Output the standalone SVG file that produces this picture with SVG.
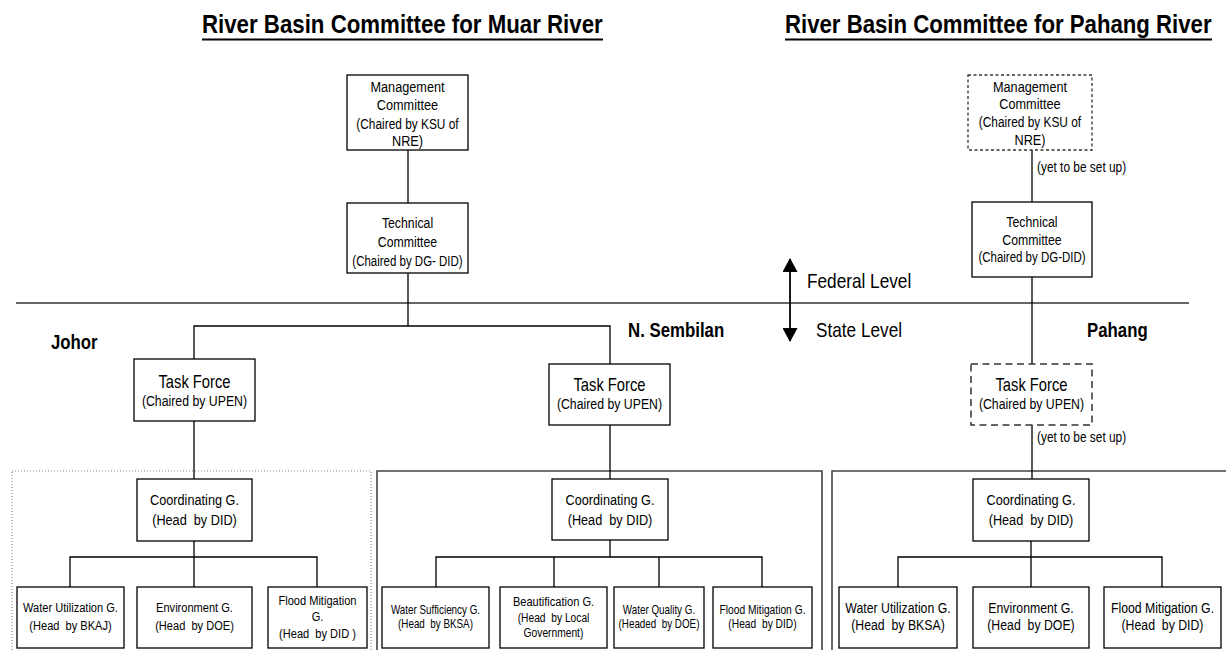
<svg xmlns="http://www.w3.org/2000/svg" width="1226" height="650" viewBox="0 0 1226 650">
  <style>
    text { font-family: "Liberation Sans Narrow", "Arial Narrow", "Liberation Sans", Arial, sans-serif; fill: #000; white-space: pre; }
    .c { text-anchor: middle; }
    .title { font-size: 25px; font-weight: bold; }
    .state { font-size: 20.5px; font-weight: bold; }
    .lvl { font-size: 21px; }
    .note { font-size: 14.5px; }
    .box { fill: #fff; stroke: #000; stroke-width: 1.3; }
    .dash-s { fill: #fff; stroke: #333; stroke-width: 1.3; stroke-dasharray: 3 2.5; }
    .dash-l { fill: #fff; stroke: #333; stroke-width: 1.5; stroke-dasharray: 7 4.5; }
    .area { fill: none; stroke: #444; stroke-width: 1.6; }
    .area-dot { fill: none; stroke: #888; stroke-width: 1.2; stroke-dasharray: 1 2; }
    .link { fill: none; stroke: #000; stroke-width: 1.3; }
  </style>
  <defs>
    <marker id="tip" viewBox="0 0 14 15" refX="13" refY="7.5" markerWidth="14" markerHeight="15" markerUnits="userSpaceOnUse" orient="auto-start-reverse">
      <path d="M0,0 L14,7.5 L0,15 Z" fill="#000"/>
    </marker>
  </defs>

  <rect width="1226" height="650" fill="#fff"/>

  <!-- Headings (condensed horizontally to a narrow face) -->
  <g id="titles">
    <text class="title" x="202" y="33" transform="matrix(0.891 0 0 1 22.02 0)">River Basin Committee for Muar River</text>
    <line x1="202" y1="39.5" x2="603" y2="39.5" stroke="#000" stroke-width="1.8"/>
    <text class="title" x="785" y="33" transform="matrix(0.888 0 0 1 87.92 0)">River Basin Committee for Pahang River</text>
    <line x1="785" y1="39.5" x2="1212" y2="39.5" stroke="#000" stroke-width="1.8"/>
  </g>

  <!-- Federal / state divider -->
  <g id="levels">
    <line x1="16" y1="303" x2="1189" y2="303" stroke="#333" stroke-width="1.3"/>
    <line x1="790" y1="259" x2="790" y2="341" stroke="#000" stroke-width="1.8" marker-start="url(#tip)" marker-end="url(#tip)"/>
    <text class="lvl" x="807" y="288.5" transform="matrix(0.82 0 0 1 145.26 0)">Federal Level</text>
    <text class="lvl" x="816" y="337" transform="matrix(0.82 0 0 1 146.88 0)">State Level</text>
  </g>

  <!-- State labels -->
  <g id="state-labels">
    <text class="state" x="51" y="349" transform="matrix(0.82 0 0 1 9.18 0)">Johor</text>
    <text class="state" x="628" y="337" transform="matrix(0.82 0 0 1 113.04 0)">N. Sembilan</text>
    <text class="state" x="1087" y="337" transform="matrix(0.82 0 0 1 195.66 0)">Pahang</text>
  </g>

  <!-- State working-group areas -->
  <g id="areas">
    <rect class="area-dot" x="12" y="471" width="359" height="200"/>
    <path class="area" d="M377,660 V471 H822 V660"/>
    <path class="area" d="M832,660 V471 H1230"/>
  </g>

  <!-- Connectors -->
  <g id="connectors">
    <path class="link" d="M408,150 V203"/>
    <path class="link" d="M408,273 V326 M194,359 V326 H610 V364"/>
    <path class="link" d="M194,421 V479"/>
    <path class="link" d="M610,425 V479"/>
    <path class="link" d="M1032,150 V202"/>
    <path class="link" d="M1032,277 V364"/>
    <path class="link" d="M1032,425 V479"/>
    <path class="link" d="M194,541 V557 M70,587 V557 H317 V587 M194,557 V587"/>
    <path class="link" d="M610,540 V557" stroke-width="2"/>
    <path class="link" d="M436,587 V557 H762 V587 M554,557 V587 M659,557 V587"/>
    <path class="link" d="M1031,541 V557 M898,587 V557 H1162 V587 M1031,557 V587"/>
    <text class="note" x="1037" y="172" transform="matrix(0.82 0 0 1 186.66 0)">(yet to be set up)</text>
    <text class="note" x="1037" y="442" transform="matrix(0.82 0 0 1 186.66 0)">(yet to be set up)</text>
  </g>

  <!-- Muar river: federal committees -->
  <g id="muar-management">
    <rect class="box" x="347" y="75" width="121" height="75"/>
    <g transform="matrix(0.82 0 0 1 73.35 0)">
      <text class="c" x="407.5" y="92.5" font-size="15.5">Management</text>
      <text class="c" x="407.5" y="110.5" font-size="15.5">Committee</text>
      <text class="c" x="407.5" y="129" font-size="14.5">(Chaired by KSU of</text>
      <text class="c" x="407.5" y="146.5" font-size="15.5">NRE)</text>
    </g>
  </g>
  <g id="muar-technical">
    <rect class="box" x="347" y="203" width="121" height="70"/>
    <g transform="matrix(0.82 0 0 1 73.35 0)">
      <text class="c" x="407.5" y="228" font-size="15">Technical</text>
      <text class="c" x="407.5" y="247" font-size="15">Committee</text>
      <text class="c" x="407.5" y="266" font-size="14">(Chaired by DG- DID)</text>
    </g>
  </g>

  <!-- Pahang river: federal committees -->
  <g id="pahang-management">
    <rect class="dash-s" x="968" y="75" width="124" height="75"/>
    <g transform="matrix(0.82 0 0 1 185.4 0)">
      <text class="c" x="1030" y="92" font-size="15.5">Management</text>
      <text class="c" x="1030" y="109.5" font-size="15.5">Committee</text>
      <text class="c" x="1030" y="127.5" font-size="14.5">(Chaired by KSU of</text>
      <text class="c" x="1030" y="145" font-size="15.5">NRE)</text>
    </g>
  </g>
  <g id="pahang-technical">
    <rect class="box" x="972" y="202" width="120" height="75"/>
    <g transform="matrix(0.82 0 0 1 185.76 0)">
      <text class="c" x="1032" y="227" font-size="15">Technical</text>
      <text class="c" x="1032" y="245" font-size="15">Committee</text>
      <text class="c" x="1032" y="262.5" font-size="14">(Chaired by DG-DID)</text>
    </g>
  </g>

  <!-- Task forces -->
  <g id="johor-taskforce">
    <rect class="box" x="134" y="359" width="121" height="62"/>
    <g transform="matrix(0.82 0 0 1 35.01 0)">
      <text class="c" x="194.5" y="388" font-size="18">Task Force</text>
      <text class="c" x="194.5" y="406.5" font-size="15">(Chaired by UPEN)</text>
    </g>
  </g>
  <g id="nsembilan-taskforce">
    <rect class="box" x="549" y="364" width="121" height="61"/>
    <g transform="matrix(0.82 0 0 1 109.71 0)">
      <text class="c" x="609.5" y="391.5" font-size="18">Task Force</text>
      <text class="c" x="609.5" y="409" font-size="15">(Chaired by UPEN)</text>
    </g>
  </g>
  <g id="pahang-taskforce">
    <rect class="dash-l" x="971" y="364" width="121" height="61"/>
    <g transform="matrix(0.82 0 0 1 185.67 0)">
      <text class="c" x="1031.5" y="391" font-size="18">Task Force</text>
      <text class="c" x="1031.5" y="409" font-size="15">(Chaired by UPEN)</text>
    </g>
  </g>

  <!-- Coordinating groups -->
  <g id="johor-coordinating">
    <rect class="box" x="137" y="479" width="115" height="62"/>
    <g transform="matrix(0.82 0 0 1 35.01 0)">
      <text class="c" x="194.5" y="505" font-size="15.5">Coordinating G.</text>
      <text class="c" x="194.5" y="525" font-size="15.5">(Head  by DID)</text>
    </g>
  </g>
  <g id="nsembilan-coordinating">
    <rect class="box" x="552" y="479" width="116" height="61"/>
    <g transform="matrix(0.82 0 0 1 109.8 0)">
      <text class="c" x="610" y="505.5" font-size="15.5">Coordinating G.</text>
      <text class="c" x="610" y="525" font-size="15.5">(Head  by DID)</text>
    </g>
  </g>
  <g id="pahang-coordinating">
    <rect class="box" x="973" y="479" width="116" height="62"/>
    <g transform="matrix(0.82 0 0 1 185.58 0)">
      <text class="c" x="1031" y="505.5" font-size="15.5">Coordinating G.</text>
      <text class="c" x="1031" y="525" font-size="15.5">(Head  by DID)</text>
    </g>
  </g>

  <!-- Johor working groups -->
  <g id="johor-water-utilization">
    <rect class="box" x="17" y="587" width="107" height="61"/>
    <g transform="matrix(0.82 0 0 1 12.69 0)">
      <text class="c" x="70.5" y="612.5" font-size="13.5">Water Utilization G.</text>
      <text class="c" x="70.5" y="630" font-size="13.5">(Head  by BKAJ)</text>
    </g>
  </g>
  <g id="johor-environment">
    <rect class="box" x="137" y="587" width="115" height="61"/>
    <g transform="matrix(0.82 0 0 1 35.01 0)">
      <text class="c" x="194.5" y="612.5" font-size="13.5">Environment G.</text>
      <text class="c" x="194.5" y="630" font-size="13.5">(Head  by DOE)</text>
    </g>
  </g>
  <g id="johor-flood-mitigation">
    <rect class="box" x="268" y="587" width="99" height="61"/>
    <g transform="matrix(0.82 0 0 1 57.15 0)">
      <text class="c" x="317.5" y="605" font-size="13.5">Flood Mitigation</text>
      <text class="c" x="317.5" y="621.5" font-size="13.5">G.</text>
      <text class="c" x="317.5" y="638" font-size="13.5">(Head  by DID )</text>
    </g>
  </g>

  <!-- N. Sembilan working groups -->
  <g id="ns-water-sufficiency">
    <rect class="box" x="382" y="587" width="107" height="61"/>
    <g transform="matrix(0.82 0 0 1 78.39 0)">
      <text class="c" x="435.5" y="614" font-size="12">Water Sufficiency G.</text>
      <text class="c" x="435.5" y="628" font-size="12">(Head  by BKSA)</text>
    </g>
  </g>
  <g id="ns-beautification">
    <rect class="box" x="500" y="587" width="107" height="61"/>
    <g transform="matrix(0.82 0 0 1 99.63 0)">
      <text class="c" x="553.5" y="606.5" font-size="13.5">Beautification G.</text>
      <text class="c" x="553.5" y="622.5" font-size="12.5">(Head  by Local</text>
      <text class="c" x="553.5" y="637" font-size="12.5">Government)</text>
    </g>
  </g>
  <g id="ns-water-quality">
    <rect class="box" x="614" y="587" width="90" height="61"/>
    <g transform="matrix(0.82 0 0 1 118.62 0)">
      <text class="c" x="659" y="614" font-size="12">Water Quality G.</text>
      <text class="c" x="659" y="628" font-size="12">(Headed  by DOE)</text>
    </g>
  </g>
  <g id="ns-flood-mitigation">
    <rect class="box" x="713" y="587" width="99" height="61"/>
    <g transform="matrix(0.82 0 0 1 137.25 0)">
      <text class="c" x="762.5" y="614" font-size="12.5">Flood Mitigation G.</text>
      <text class="c" x="762.5" y="628" font-size="12.5">(Head  by DID)</text>
    </g>
  </g>

  <!-- Pahang working groups -->
  <g id="pahang-water-utilization">
    <rect class="box" x="839" y="587" width="118" height="61"/>
    <g transform="matrix(0.82 0 0 1 161.64 0)">
      <text class="c" x="898" y="613" font-size="15">Water Utilization G.</text>
      <text class="c" x="898" y="630.5" font-size="15">(Head  by BKSA)</text>
    </g>
  </g>
  <g id="pahang-environment">
    <rect class="box" x="973" y="587" width="116" height="61"/>
    <g transform="matrix(0.82 0 0 1 185.58 0)">
      <text class="c" x="1031" y="613" font-size="15">Environment G.</text>
      <text class="c" x="1031" y="630.5" font-size="15">(Head  by DOE)</text>
    </g>
  </g>
  <g id="pahang-flood-mitigation">
    <rect class="box" x="1104" y="587" width="117" height="61"/>
    <g transform="matrix(0.82 0 0 1 209.25 0)">
      <text class="c" x="1162.5" y="613" font-size="15">Flood Mitigation G.</text>
      <text class="c" x="1162.5" y="630.5" font-size="15">(Head  by DID)</text>
    </g>
  </g>
</svg>
